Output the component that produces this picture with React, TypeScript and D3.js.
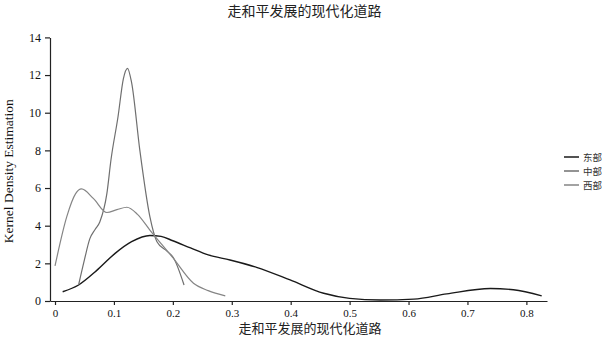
import { useEffect, useRef } from "react";
import * as d3 from "d3";

const title = "走和平发展的现代化道路";
const seriesNames = ["东部", "中部", "西部"];
const seriesColors = ["#1a1a1a", "#6f6f6f", "#858585"];

// [x, density]
const east: [number, number][] = [
    [0.013, 0.49], [0.04, 0.85], [0.07, 1.6], [0.102, 2.53], [0.13, 3.15], [0.161, 3.48],
    [0.18, 3.43], [0.2, 3.2], [0.23, 2.82], [0.26, 2.45], [0.297, 2.18], [0.342, 1.79], [0.399, 1.12],
    [0.456, 0.41], [0.5, 0.14], [0.552, 0.05], [0.609, 0.1], [0.665, 0.38],
    [0.739, 0.66], [0.778, 0.6], [0.826, 0.27],
];
const central: [number, number][] = [
    [0.04, 0.85], [0.05, 2.2], [0.059, 3.3], [0.068, 3.8], [0.076, 4.2], [0.088, 5.7],
    [0.095, 7.5], [0.107, 9.8], [0.116, 11.8], [0.123, 12.36], [0.13, 11.6], [0.144, 8.0],
    [0.161, 4.48], [0.173, 3.15], [0.19, 2.65], [0.201, 2.3], [0.219, 0.85],
];
const west: [number, number][] = [
    [0.0, 1.86], [0.02, 4.48], [0.035, 5.7], [0.045, 5.95], [0.065, 5.45], [0.088, 4.7],
    [0.105, 4.85], [0.122, 4.98], [0.14, 4.6], [0.161, 3.77], [0.2, 2.3], [0.235, 0.94],
    [0.26, 0.55], [0.289, 0.27],
];
const allSeries = [east, central, west];

const xTicks = [0, 0.1, 0.2, 0.3, 0.4, 0.5, 0.6, 0.7, 0.8];
const yTicks = [0, 2, 4, 6, 8, 10, 12, 14];

export default function App() {
    const svgRef = useRef(null);

    useEffect(() => {
        const width = 609;
        const svg = d3.select(svgRef.current);
        svg.selectAll("*").remove();

        const x = d3.scaleLinear().domain([-0.0085, 0.835]).range([50, 547]);
        const y = d3.scaleLinear().domain([0, 14]).range([301, 37.4]);
        const serif = "'Liberation Serif', 'Times New Roman', serif";
        const cjk = "'Noto Sans CJK SC', sans-serif";

        svg.append("text")
            .attr("x", width / 2).attr("y", 16)
            .attr("text-anchor", "middle")
            .style("font-family", cjk).style("font-size", "14px").attr("fill", "#222")
            .text(title);

        // x axis
        const gx = svg.append("g")
            .attr("transform", `translate(0,${y(0)})`)
            .call(d3.axisBottom(x).tickValues(xTicks).tickSize(4).tickSizeOuter(0).tickPadding(4)
                .tickFormat(d => d3.format("")(d)));
        gx.selectAll("text").style("font-family", serif).style("font-size", "11px").attr("fill", "#111");

        // y axis
        const gy = svg.append("g")
            .attr("transform", `translate(${x.range()[0]},0)`)
            .call(d3.axisLeft(y).tickValues(yTicks).tickSize(5).tickSizeOuter(0).tickPadding(4));
        gy.selectAll("text").style("font-family", serif).style("font-size", "12px").attr("fill", "#111");

        svg.selectAll(".domain, .tick line").attr("stroke", "#222").attr("stroke-width", 1.2);

        svg.append("text")
            .attr("transform", `translate(13,${(y(0) + y(14)) / 2 + 2}) rotate(-90)`)
            .attr("text-anchor", "middle")
            .style("font-family", serif).style("font-size", "13.5px").attr("fill", "#111")
            .text("Kernel Density Estimation");

        svg.append("text")
            .attr("x", 310).attr("y", 333)
            .attr("text-anchor", "middle")
            .style("font-family", cjk).style("font-size", "13px").attr("fill", "#222")
            .text(title);

        const line = d3.line<[number, number]>()
            .x(d => x(d[0]))
            .y(d => y(d[1]))
            .curve(d3.curveMonotoneX);

        allSeries.forEach((s, i) => {
            svg.append("path")
                .attr("d", line(s))
                .attr("fill", "none")
                .attr("stroke", seriesColors[i])
                .attr("stroke-width", i === 0 ? 1.4 : 1.2);
        });

        // legend
        const legend = svg.append("g");
        seriesNames.forEach((name, i) => {
            const ly = 157 + i * 14;
            legend.append("line")
                .attr("x1", 564).attr("x2", 579).attr("y1", ly).attr("y2", ly)
                .attr("stroke", seriesColors[i]).attr("stroke-width", 1.5);
            legend.append("text")
                .attr("x", 583).attr("y", ly + 3.5)
                .style("font-family", cjk).style("font-size", "9.5px").attr("fill", "#333")
                .text(name);
        });
    }, []);

    return <svg ref={svgRef} width={609} height={342} style={{ display: "block", position: "absolute", left: 0, top: 0 }} />;
}
